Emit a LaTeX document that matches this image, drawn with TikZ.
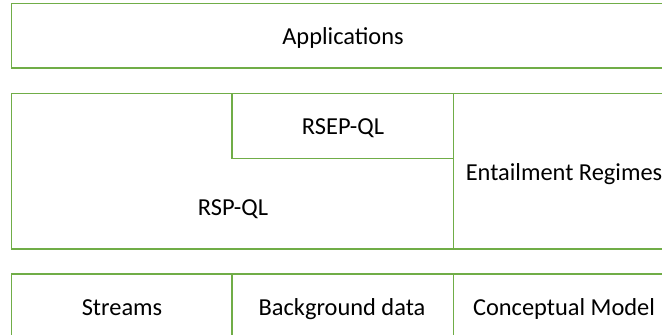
\documentclass[tikz,border=0pt]{standalone}
\usepackage{fontspec}
\setmainfont{Carlito}
\usetikzlibrary{positioning}
\definecolor{layergreen}{HTML}{70AD47}

\tikzset{
  layerline/.style={draw=layergreen, line width=0.9pt},
  layertext/.style={anchor=base, inner sep=0pt, font=\fontsize{12.2}{14}\selectfont}
}

\begin{document}
\begin{tikzpicture}[x=0.5pt,y=-0.5pt]
  \useasboundingbox (0,0) rectangle (662,335);
  \clip (0,0) rectangle (662,335);

  %% Applications layer
  \draw[layerline] (11.5,3.5) rectangle (675,68);
  \node[layertext] (apps) at (343,45) {Applications};

  %% Query language layer
  \draw[layerline] (11.5,93.5) rectangle (675,249);
  \draw[layerline] (232,93.5) rectangle (453.5,158.5);
  \draw[layerline] (453.5,93.5) -- (453.5,249);
  \node[layertext] (rsepql) at (343,135) {RSEP-QL};
  \node[layertext] (rspql) at (233,216) {RSP-QL};
  \node[layertext] (entail) at (564,181) {Entailment Regimes};

  %% Data layer
  \draw[layerline] (11.5,274) rectangle (675,345);
  \draw[layerline] (232,274) -- (232,345);
  \draw[layerline] (453.5,274) -- (453.5,345);
  \node[layertext] (streams) at (122,315.5) {Streams};
  \node[layertext] (bgdata) at (342,315.5) {Background data};
  \node[layertext] (concmodel) at (564,315.5) {Conceptual Model};
\end{tikzpicture}
\end{document}
